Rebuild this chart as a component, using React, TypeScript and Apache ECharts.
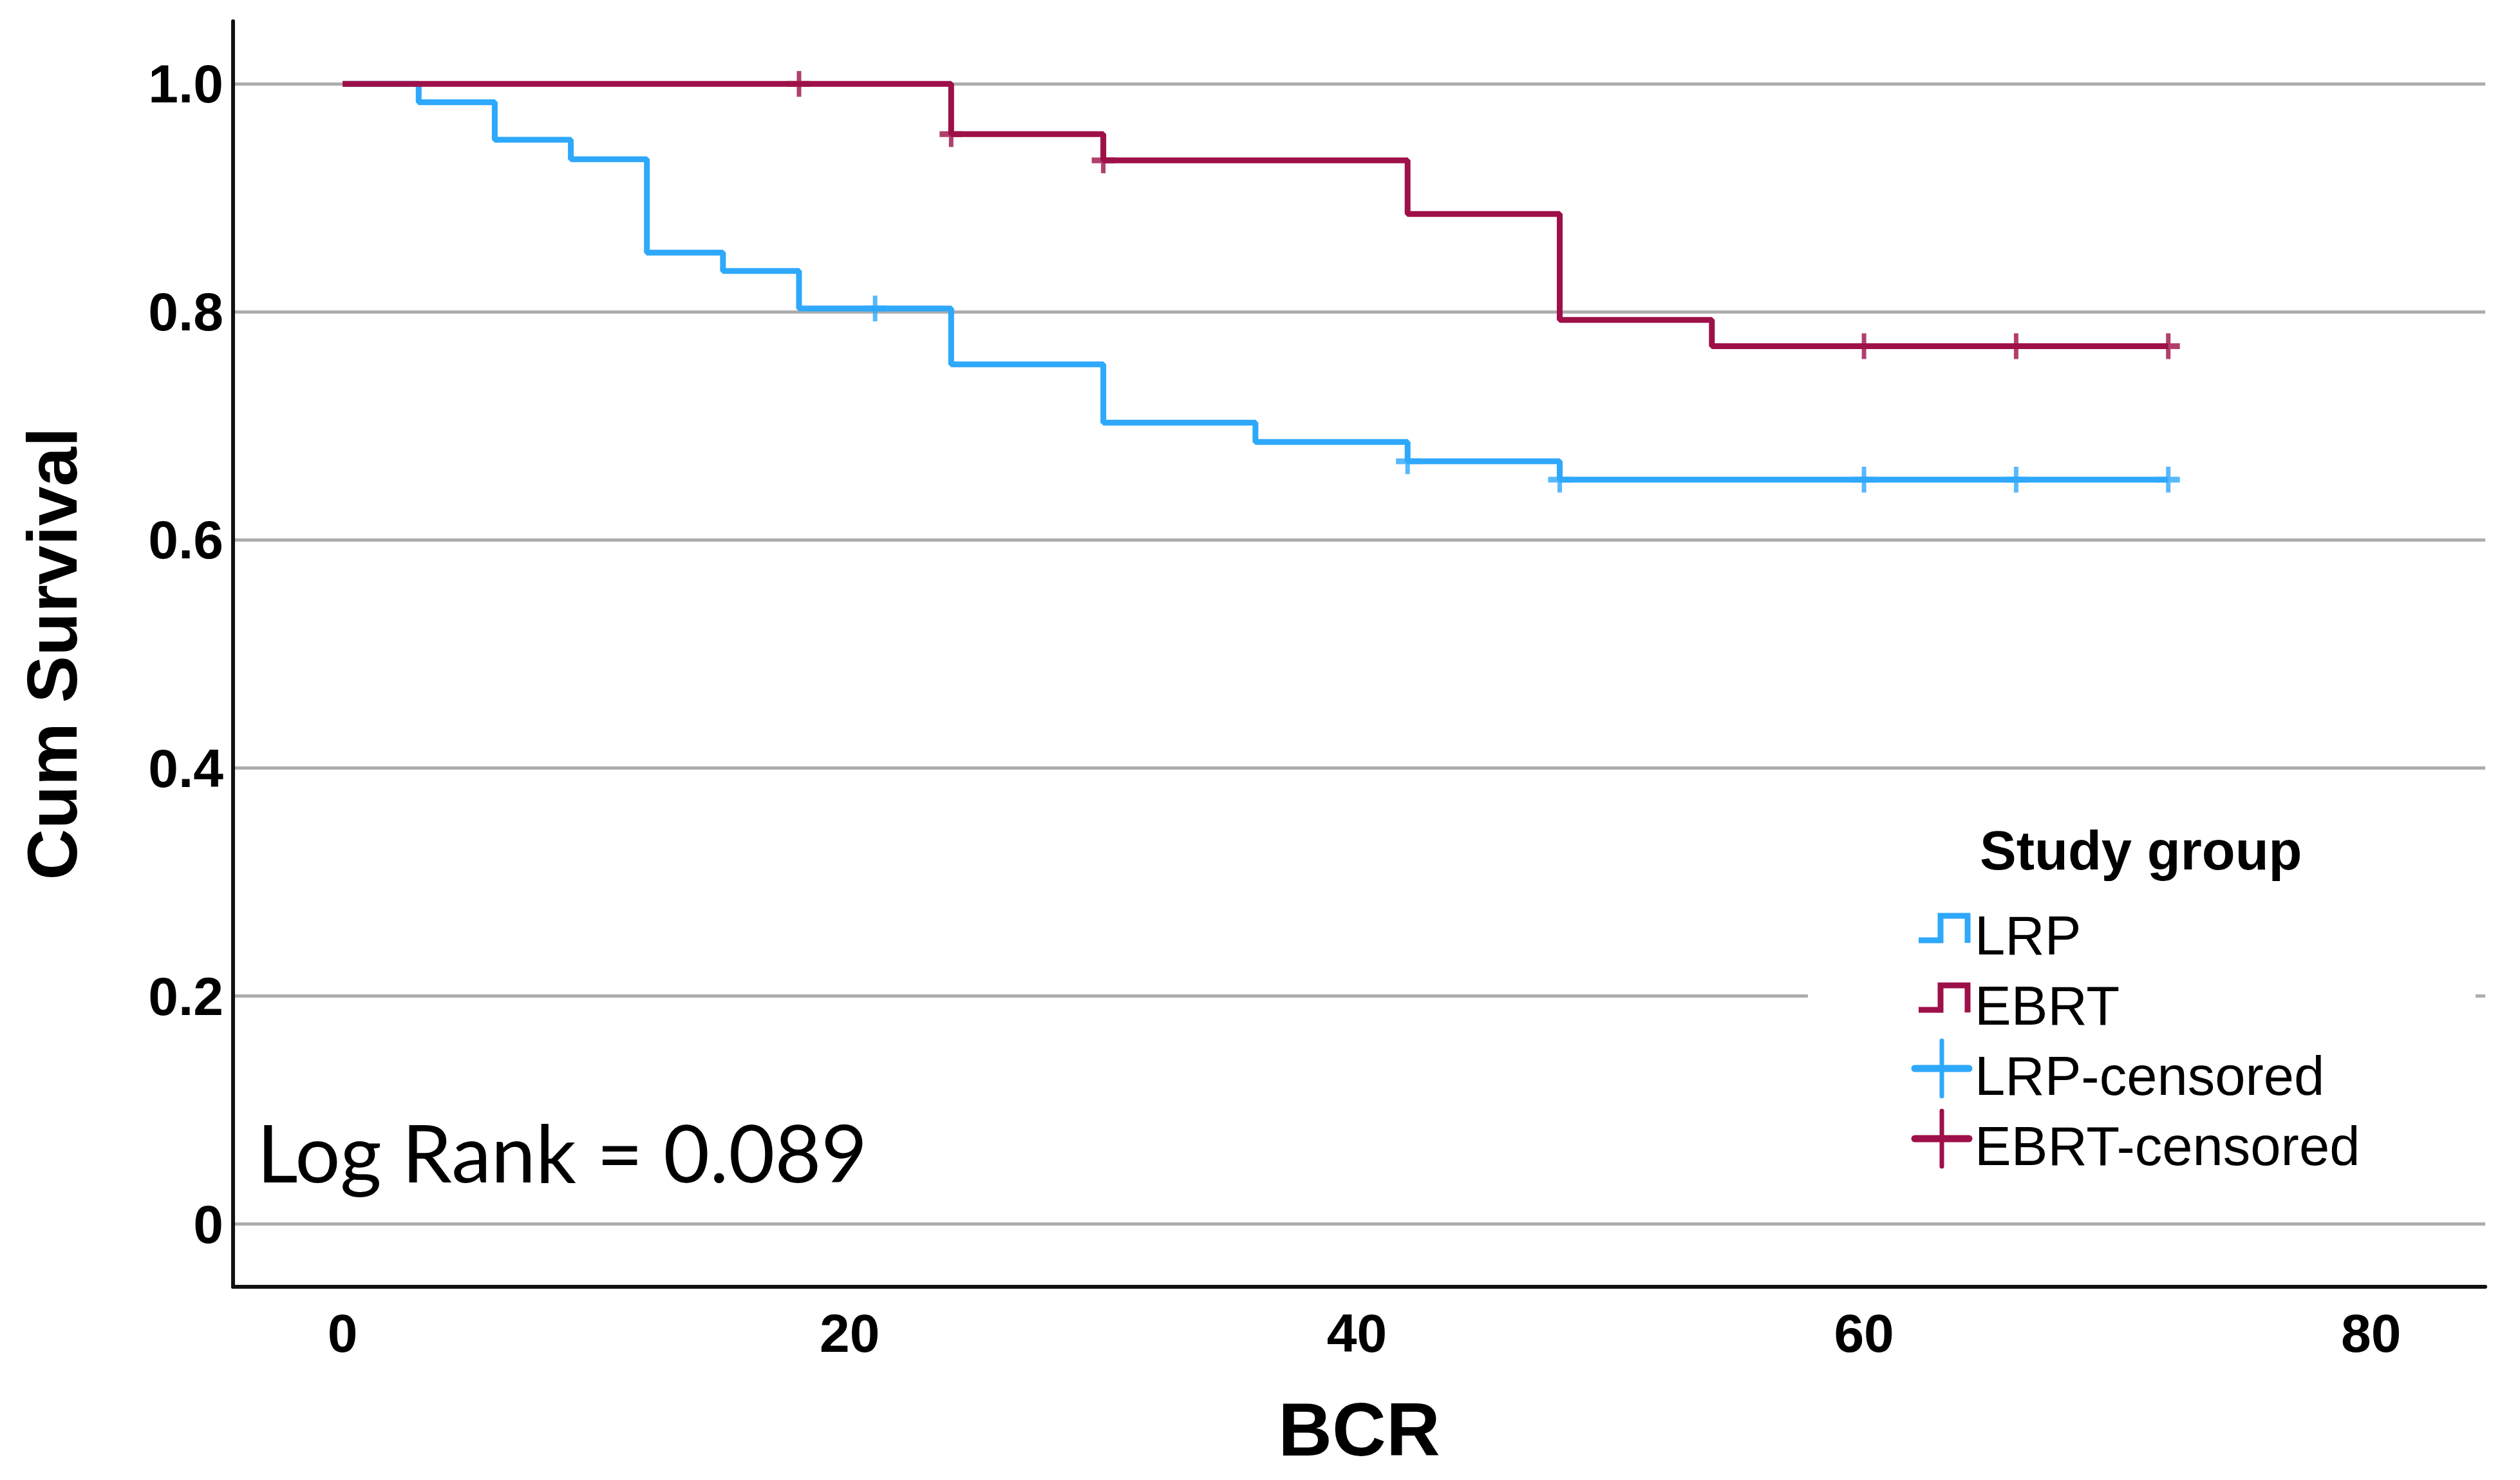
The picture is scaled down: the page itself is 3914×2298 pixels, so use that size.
import React, { useEffect, useRef } from "react";
import * as echarts from "echarts";

// ---- data ----
const xTicks = [0, 20, 40, 60, 80];
const yTicks = [0, 0.2, 0.4, 0.6, 0.8, 1.0];
const groups = ["LRP", "EBRT"];
const legendLabels = ["LRP", "EBRT", "LRP-censored", "EBRT-censored"];
const lrpTimes = [0, 3, 6, 9, 12, 15, 18, 24, 30, 36, 42, 48, 72];
const lrpSurv = [1, 0.984, 0.951, 0.934, 0.852, 0.836, 0.803, 0.754, 0.703, 0.686, 0.669, 0.653, 0.653];
const ebrtTimes = [0, 24, 30, 42, 48, 54, 72];
const ebrtSurv = [1, 0.956, 0.933, 0.886, 0.793, 0.77, 0.77];
const lrpCensTimes = [21, 42, 48, 60, 66, 72];
const lrpCensSurv = [0.803, 0.669, 0.653, 0.653, 0.653, 0.653];
const ebrtCensTimes = [18, 24, 30, 60, 66, 72];
const ebrtCensSurv = [1, 0.956, 0.933, 0.77, 0.77, 0.77];
const logRankText = "Log Rank = 0.089";

const BLUE = "#2ea8fb";
const RED = "#9e1049";
const FONT = "'Liberation Sans', Arial, sans-serif";

const zip = (a: number[], b: number[]) => a.map((v, i) => [v, b[i]]);

const PLUS =
  "path://M-18,-4.5 H-3.5 V-20 H3.5 V-4.5 H18 V4.5 H3.5 V20 H-3.5 V4.5 H-18 Z";

export default function App() {
  const ref = useRef<HTMLDivElement>(null);
  useEffect(() => {
    if (!ref.current) return;
    const chart = echarts.init(ref.current, null, { renderer: "svg" });
    const legendX = 3067;
    const rowMid = [1452, 1561, 1670, 1779];
    const stepIcon = (dy: number, color: string) => ({
      type: "polyline",
      z: 101,
      shape: {
        points: [
          [2980, 1460 + dy],
          [3014, 1460 + dy],
          [3014, 1422 + dy],
          [3056, 1422 + dy],
          [3056, 1464 + dy],
        ],
      },
      style: { stroke: color, lineWidth: 9, fill: null, lineJoin: "miter" },
    });
    const plusIcon = (cy: number, color: string) => [
      { type: "line", z: 101, shape: { x1: 2974, y1: cy, x2: 3058, y2: cy }, style: { stroke: color, lineWidth: 11, lineCap: "round" } },
      { type: "line", z: 101, shape: { x1: 3016, y1: cy - 43, x2: 3016, y2: cy + 43 }, style: { stroke: color, lineWidth: 7, lineCap: "round" } },
    ];
    const option: any = {
      animation: false,
      backgroundColor: "#ffffff",
      grid: { left: 362, top: 33, width: 3498, height: 1965, containLabel: false },
      xAxis: {
        type: "value",
        min: -4.32,
        max: 84.5,
        axisLine: { show: true, onZero: false, lineStyle: { color: "#111", width: 6 } },
        axisTick: { show: false, customValues: xTicks },
        axisLabel: {
          customValues: xTicks,
          margin: 30,
          color: "#000",
          fontSize: 84,
          fontWeight: "bold",
          fontFamily: FONT,
        },
        splitLine: { show: false },
      },
      yAxis: {
        type: "value",
        min: -0.055,
        max: 1.055,
        axisLine: { show: true, onZero: false, lineStyle: { color: "#111", width: 6 } },
        axisTick: { show: false, customValues: yTicks },
        axisLabel: {
          customValues: yTicks,
          margin: 15,
          color: "#000",
          fontSize: 84,
          fontWeight: "bold",
          fontFamily: FONT,
          formatter: (v: number) => (Math.abs(v) < 1e-9 ? "0" : v.toFixed(1)),
        },
        splitLine: { show: true, lineStyle: { color: "#adadad", width: 5 } },
      },
      series: [
        {
          name: groups[0],
          type: "line",
          step: "end",
          data: zip(lrpTimes, lrpSurv),
          showSymbol: false,
          symbol: "none",
          clip: false,
          z: 2,
          lineStyle: { color: BLUE, width: 9 },
        },
        {
          name: groups[1],
          type: "line",
          step: "end",
          data: zip(ebrtTimes, ebrtSurv),
          showSymbol: false,
          symbol: "none",
          clip: false,
          z: 4,
          lineStyle: { color: RED, width: 9 },
        },
        {
          name: legendLabels[2],
          type: "scatter",
          data: zip(lrpCensTimes, lrpCensSurv),
          symbol: PLUS,
          symbolSize: [36, 40],
          clip: false,
          z: 3,
          itemStyle: { color: BLUE },
        },
        {
          name: legendLabels[3],
          type: "scatter",
          data: zip(ebrtCensTimes, ebrtCensSurv),
          symbol: PLUS,
          symbolSize: [36, 40],
          clip: false,
          z: 5,
          itemStyle: { color: RED },
        },
      ],
      graphic: [
        {
          type: "text",
          z: 100,
          x: 80,
          y: 1015,
          rotation: Math.PI / 2,
          style: { text: "Cum Survival", fill: "#000", font: `bold 110px ${FONT}`, textAlign: "center", textVerticalAlign: "middle" },
        },
        {
          type: "text",
          z: 100,
          x: 2111,
          y: 2220,
          style: { text: "BCR", fill: "#000", font: `bold 116px ${FONT}`, textAlign: "center", textVerticalAlign: "middle" },
        },
        {
          type: "text",
          z: 100,
          x: 399,
          y: 1788,
          style: { text: logRankText, fill: "#000", font: `124px Lato, 'Open Sans', sans-serif`, textAlign: "left", textVerticalAlign: "middle" },
        },
        {
          type: "rect",
          z: 99,
          shape: { x: 2808, y: 1235, width: 1037, height: 620 },
          style: { fill: "#ffffff" },
        },
        {
          type: "text",
          z: 101,
          x: 3075,
          y: 1320,
          style: { text: "Study group", fill: "#000", font: `bold 85px ${FONT}`, textAlign: "left", textVerticalAlign: "middle" },
        },
        stepIcon(0, BLUE),
        stepIcon(108, RED),
        ...plusIcon(1659, BLUE),
        ...plusIcon(1768, RED),
        ...legendLabels.map((t, i) => ({
          type: "text",
          z: 101,
          x: legendX,
          y: rowMid[i],
          style: { text: t, fill: "#000", font: `85px ${FONT}`, textAlign: "left", textVerticalAlign: "middle" },
        })),
      ],
    };
    chart.setOption(option);
    return () => chart.dispose();
  }, []);
  return (
    <div
      ref={ref}
      style={{ position: "absolute", left: 0, top: 0, width: 3914, height: 2298, background: "#fff" }}
    />
  );
}
